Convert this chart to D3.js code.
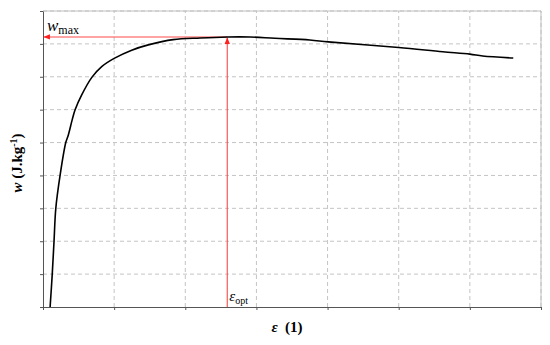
<!DOCTYPE html>
<html>
<head>
<meta charset="utf-8">
<script src="https://cdn.jsdelivr.net/npm/d3@7"></script>
<style>
  body { margin: 0; background: #fff; }
  svg { display: block; font-family: "Liberation Serif", "DejaVu Serif", serif; }
</style>
</head>
<body>
<svg id="chart" width="550" height="345"></svg>
<script>
// strain (epsilon) vs specific work w (arbitrary units, grid = 1)
const epsilon = [0.10, 0.13, 0.155, 0.18, 0.24, 0.32, 0.356, 0.41, 0.45, 0.544, 0.689, 0.825,
                 1.0, 1.247, 1.48, 1.83, 2.21, 2.59, 2.91, 3.26, 3.75, 4.01, 5.0, 5.62, 6.0, 6.18, 6.61];
const work = [0, 1.0, 2.0, 3.0, 4.0, 5.0, 5.23, 5.69, 5.99, 6.45, 6.99, 7.31,
              7.56, 7.81, 7.97, 8.13, 8.18, 8.21, 8.21, 8.17, 8.12, 8.06, 7.89, 7.76, 7.69, 7.63, 7.57];
const xTicks = d3.range(0, 8);
const yTicks = d3.range(0, 10);

const width = 550, height = 345;
const margin = {top: 11, right: 9, bottom: 38, left: 43};

const svg = d3.select("#chart");

const x = d3.scaleLinear().domain([0, 7]).range([margin.left, width - margin.right]);
const y = d3.scaleLinear().domain([0, 9]).range([height - margin.bottom, margin.top]);

// grid
svg.append("g")
    .selectAll("line")
    .data(xTicks.slice(1))
    .enter().append("line")
    .attr("x1", d => x(d)).attr("x2", d => x(d))
    .attr("y1", y(0)).attr("y2", y(9))
    .attr("stroke", "#c4c4c4").attr("stroke-dasharray", "4,3");
svg.append("g")
    .selectAll("line")
    .data(yTicks.slice(1))
    .enter().append("line")
    .attr("x1", x(0)).attr("x2", x(7))
    .attr("y1", d => y(d)).attr("y2", d => y(d))
    .attr("stroke", "#c4c4c4").attr("stroke-dasharray", "4,3");

// top + right frame
svg.append("path")
    .attr("d", `M${x(0)},${y(9)}H${x(7)}V${y(0)}`)
    .attr("fill", "none").attr("stroke", "#c0c0c0");

// axes without labels
const xAxis = svg.append("g")
    .attr("transform", `translate(0,${y(0)})`)
    .call(d3.axisBottom(x).tickValues(xTicks).tickFormat("").tickSize(3).tickSizeOuter(0));
const yAxis = svg.append("g")
    .attr("transform", `translate(${x(0)},0)`)
    .call(d3.axisLeft(y).tickValues(yTicks).tickFormat("").tickSize(3).tickSizeOuter(0));
[xAxis, yAxis].forEach(a => {
    a.select(".domain").attr("stroke", "#555");
    a.selectAll(".tick line").attr("stroke", "#555");
});

// optimum = max of the curve
const iMax = d3.maxIndex(work);
const epsOpt = epsilon[iMax], wMax = work[iMax];

const defs = svg.append("defs");
defs.append("marker")
    .attr("id", "arr")
    .attr("viewBox", "0 0 10 10")
    .attr("refX", 9).attr("refY", 5)
    .attr("markerWidth", 6).attr("markerHeight", 6)
    .attr("orient", "auto")
    .append("path")
    .attr("d", "M0,1 L10,5 L0,9 z")
    .attr("fill", "#ff2020");

const red = "#ff4a4a";
svg.append("line")
    .attr("x1", x(epsOpt)).attr("x2", x(0) + 1)
    .attr("y1", y(wMax)).attr("y2", y(wMax))
    .attr("stroke", red).attr("stroke-width", 1.1)
    .attr("marker-end", "url(#arr)");
svg.append("line")
    .attr("x1", x(epsOpt)).attr("x2", x(epsOpt))
    .attr("y1", y(0)).attr("y2", y(wMax) + 1)
    .attr("stroke", red).attr("stroke-width", 1.1)
    .attr("marker-end", "url(#arr)");

// the curve
svg.append("path")
    .datum(d3.zip(epsilon, work))
    .attr("fill", "none")
    .attr("stroke", "#000")
    .attr("stroke-width", 1.6)
    .attr("d", d3.line()
        .x(d => x(d[0]))
        .y(d => y(d[1]))
        .curve(d3.curveCatmullRom.alpha(0.5)));

// annotations
const wLab = svg.append("text")
    .attr("x", x(0) + 4).attr("y", y(wMax) - 6)
    .attr("font-size", 17);
wLab.append("tspan").attr("font-style", "italic").text("w");
wLab.append("tspan").attr("font-size", 12).attr("dy", 3).text("max");

const eLab = svg.append("text")
    .attr("x", x(epsOpt) + 2).attr("y", y(0) - 6)
    .attr("font-size", 15);
eLab.append("tspan").attr("font-style", "italic").text("ε");
eLab.append("tspan").attr("font-size", 10).attr("dy", 3).text("opt");

// axis titles
svg.append("text")
    .attr("x", 287).attr("y", 332)
    .attr("text-anchor", "middle")
    .attr("font-size", 15).attr("font-weight", "bold")
    .html('<tspan font-style="italic">ε</tspan>\u00a0\u00a0(1)');

const yl = svg.append("text")
    .attr("transform", "translate(22,163) rotate(-90)")
    .attr("text-anchor", "middle")
    .attr("font-size", 15).attr("font-weight", "bold");
yl.append("tspan").attr("font-style", "italic").text("w");
yl.append("tspan").text(" (J.kg");
yl.append("tspan").attr("font-size", 10).attr("dy", -5).text("-1");
yl.append("tspan").attr("dy", 5).text(")");
</script>
</body>
</html>
